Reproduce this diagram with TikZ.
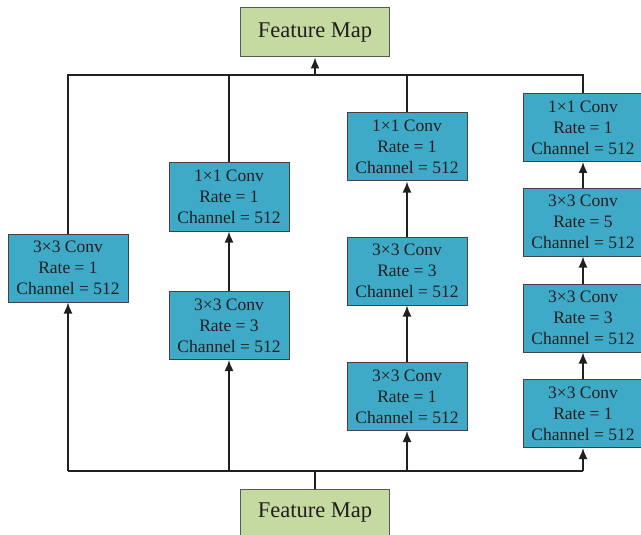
\documentclass[tikz,border=0pt]{standalone}
\usepackage{fontspec}
\setmainfont{Liberation Serif}
\usepackage{xcolor}
\usepackage{tikz}
\usetikzlibrary{positioning}
\usetikzlibrary{arrows.meta,calc}
\definecolor{convblue}{RGB}{63,170,200}
\definecolor{mapgreen}{RGB}{197,218,160}
\definecolor{inkgray}{RGB}{35,31,32}
\tikzstyle{conv}=[rectangle,fill=convblue,draw=inkgray!85,line width=1pt,minimum width=120pt,minimum height=68pt,inner sep=0pt,align=center,font=\fontsize{17.5}{21}\selectfont,text=inkgray]
\tikzstyle{fmap}=[rectangle,fill=mapgreen,draw=inkgray!75,line width=1pt,minimum width=149pt,inner sep=0pt,font=\fontsize{22.5}{26}\selectfont,text=inkgray]
\tikzstyle{edge} = [draw,line width=1.6pt,inkgray,-{Latex[length=11pt,width=9pt]}]
\tikzstyle{bus} = [draw,line width=1.6pt,inkgray]

\begin{document}
\begin{tikzpicture}[x=1pt,y=-1pt]

  \useasboundingbox (0,0) rectangle (641,535);

   \node[fmap, minimum height=49pt] (fmout) at (315, 32.5) {Feature Map};
   \node[fmap, minimum height=48pt] (fmin) at (315, 513) {Feature Map};

   % conv boxes, column by column, bottom to top
   \foreach \x/\y/\name/\k/\r in { 68/268/L11/3/1,
          229/325.5/L21/3/3, 229/197/L22/1/1,
          407/396.5/L31/3/1, 407/271/L32/3/3, 407/147/L33/1/1,
          583/413.5/L41/3/1, 583/318/L42/3/3, 583/222/L43/3/5, 583/127.5/L44/1/1}
          \node[conv] (\name) at (\x, \y) {\k×\k{} Conv\\Rate = \r\\Channel = 512};

   \coordinate (top) at (315, 75);
   \coordinate (bot) at (315, 471);

   % output bus
   \path[bus] (L11.north) |- (top) -| (L44.north);
   \foreach \source in {L22, L33}
         \path[bus] (\source.north) -- (\source.north |- top);
   \path[edge] (top) -- (fmout);

   % input bus
   \path[bus] (fmin) -- (bot);
   \path[bus] (L11.south |- bot) -- (L41.south |- bot);
   \foreach \dest in {L11, L21, L31, L41}
         \path[edge] (\dest.south |- bot) -- (\dest);

   \foreach \source/ \dest in {L21/L22, L31/L32, L32/L33, L41/L42, L42/L43, L43/L44}
         \path[edge] (\source) -- (\dest);

\end{tikzpicture}
\end{document}
